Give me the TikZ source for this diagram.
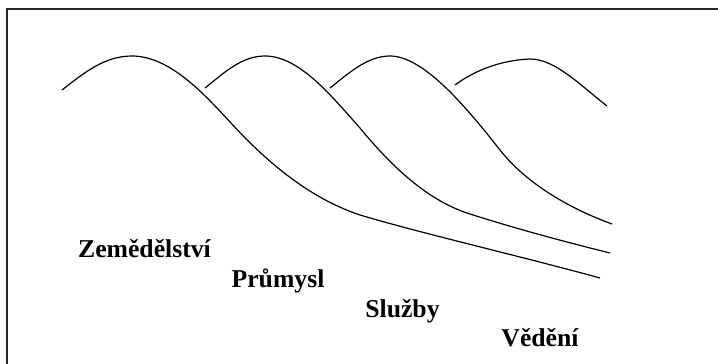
\documentclass[tikz,border=0pt]{standalone}
\usepackage{fontspec}
\setmainfont{Liberation Serif}
\usetikzlibrary{positioning}

\begin{document}
\begin{tikzpicture}[
    x=1pt, y=-1pt,          % 画素と同じ単位で座標を指定する
    % 波形の線のスタイル
    wave_curve/.style={
        black,
        line width=1.2pt
    },
    % 各セクターのラベルのスタイル
    sector_label/.style={
        anchor=base,
        inner sep=0pt,
        font=\bfseries\fontsize{25.7}{30}\selectfont
    }
]

    \useasboundingbox (0, 0) rectangle (718, 364);

    % --- 1. 枠線（上辺と左辺） ---
    \draw [line width=2pt, black!85] (7, 364) -- (7, 8.5) -- (718, 8.5);

    % --- 2. 四つの波形 ---
    % 【第一の波】
    \draw [wave_curve] (62, 90)
        .. controls (85, 72) and (105, 56) .. (132, 56)
        .. controls (170, 56) and (205, 95) .. (230, 122)
        .. controls (255, 149) and (300, 195) .. (360, 215)
        .. controls (420, 233) and (520, 256) .. (600, 278);

    % 【第二の波】
    \draw [wave_curve] (205, 88)
        .. controls (225, 72) and (242, 56) .. (265, 56)
        .. controls (300, 56) and (333, 98) .. (360, 128)
        .. controls (388, 162) and (425, 200) .. (470, 214)
        .. controls (520, 230) and (570, 243) .. (610, 253);

    % 【第三の波】
    \draw [wave_curve] (330, 88)
        .. controls (350, 72) and (368, 56) .. (390, 56)
        .. controls (425, 56) and (470, 112) .. (500, 150)
        .. controls (522, 178) and (560, 205) .. (612, 224);

    % 【第四の波】
    \draw [wave_curve] (455, 85)
        .. controls (478, 68) and (505, 60) .. (530, 59)
        .. controls (555, 59) and (580, 85) .. (607, 106);

    % --- 3. ラベル ---
    \node [sector_label] (agri)     at (144.5, 257) {Zemědělství};
    \node [sector_label] (industry) at (278, 287)   {Průmysl};
    \node [sector_label] (services) at (402.5, 317) {Služby};
    \node [sector_label] (knowl)    at (540, 346)   {Vědění};

\end{tikzpicture}
\end{document}
